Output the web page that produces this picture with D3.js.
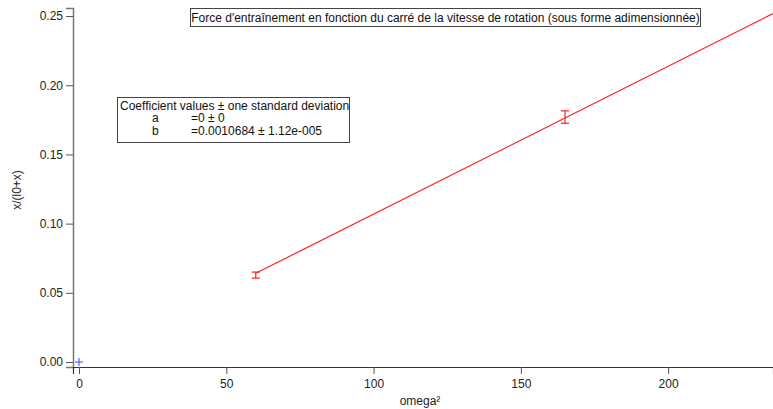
<!DOCTYPE html>
<html>
<head>
<meta charset="utf-8">
<script src="https://cdn.jsdelivr.net/npm/d3@7"></script>
<style>
body { margin: 0; background: #fff; }
svg { font-family: "Liberation Sans", Arial, sans-serif; }
</style>
</head>
<body>
<svg width="773" height="409"></svg>
<script>
// data
const omega2 = [60, 165];
const ratio = [0.0628, 0.177];
const ratioErr = [0.0022, 0.0045];
const fitA = 0, fitB = 0.0010684;
const fitStart = 60;
const origin = [0, 0];
const yTicks = [0, 0.05, 0.10, 0.15, 0.20, 0.25];
const xTicks = [0, 50, 100, 150, 200];

const svg = d3.select('svg');
const plotL = 73, plotR = 773, plotT = 8, plotB = 367;

const x = d3.scaleLinear().domain([-2.04, 235.6]).range([plotL, plotR]);
const y = d3.scaleLinear().domain([-0.0036, 0.2558]).range([plotB, plotT]);

// y axis
const yAxis = svg.append('g')
    .attr('transform', `translate(${plotL},0)`)
    .call(d3.axisLeft(y).tickValues(yTicks).tickFormat(d3.format('.2f')).tickSize(7).tickPadding(3));
yAxis.select('.domain').attr('stroke', '#777').attr('stroke-width', 1.5);
yAxis.selectAll('.tick line').attr('stroke', '#555');
yAxis.selectAll('.tick text').attr('font-size', 12).attr('fill', '#222');

// x axis
const xAxis = svg.append('g')
    .attr('transform', `translate(0,${plotB})`)
    .call(d3.axisBottom(x).tickValues(xTicks).tickSize(7).tickPadding(5));
xAxis.select('.domain').attr('stroke', '#333').attr('stroke-width', 1.2);
xAxis.selectAll('.tick line').attr('stroke', '#555');
xAxis.selectAll('.tick text').attr('font-size', 12).attr('fill', '#222');

svg.append('text')
    .attr('x', 420).attr('y', 405)
    .attr('text-anchor', 'middle').attr('font-size', 12).attr('fill', '#222')
    .text('omega²');

svg.append('text')
    .attr('transform', `translate(21,190) rotate(-90)`)
    .attr('text-anchor', 'middle').attr('font-size', 12).attr('fill', '#222')
    .text('x/(l0+x)');

// fit line
const fitLine = d3.line().x(d => x(d)).y(d => y(fitA + fitB * d));
svg.append('path')
    .datum([fitStart, x.domain()[1]])
    .attr('d', fitLine)
    .attr('stroke', '#ff2020').attr('stroke-width', 1.2).attr('fill', 'none');

// error bars
const pts = omega2.map((v, i) => ({ x: v, y: ratio[i], e: ratioErr[i] }));
const eb = svg.append('g').attr('stroke', '#ff2020').attr('stroke-width', 1.2);
eb.selectAll('.v').data(pts).enter().append('line')
    .attr('x1', d => x(d.x)).attr('x2', d => x(d.x))
    .attr('y1', d => y(d.y - d.e)).attr('y2', d => y(d.y + d.e));
eb.selectAll('.t').data(pts).enter().append('line')
    .attr('x1', d => x(d.x) - 4).attr('x2', d => x(d.x) + 4)
    .attr('y1', d => y(d.y + d.e)).attr('y2', d => y(d.y + d.e));
eb.selectAll('.b').data(pts).enter().append('line')
    .attr('x1', d => x(d.x) - 4).attr('x2', d => x(d.x) + 4)
    .attr('y1', d => y(d.y - d.e)).attr('y2', d => y(d.y - d.e));

// blue origin marker
const ox = x(origin[0]), oy = y(origin[1]);
svg.append('path')
    .attr('d', `M${ox - 4},${oy}H${ox + 4}M${ox},${oy - 4}V${oy + 4}`)
    .attr('stroke', '#2a4dff').attr('stroke-width', 1);

// title box
svg.append('rect').attr('x', 190.5).attr('y', 8.5).attr('width', 510).attr('height', 18)
    .attr('fill', '#fff').attr('stroke', '#444');
svg.append('text').attr('x', 445.5).attr('y', 22).attr('text-anchor', 'middle')
    .attr('font-size', 12).attr('fill', '#111')
    .text("Force d'entraînement en fonction du carré de la vitesse de rotation (sous forme adimensionnée)");

// coefficient box
svg.append('rect').attr('x', 117.5).attr('y', 97.5).attr('width', 232).attr('height', 45)
    .attr('fill', '#fff').attr('stroke', '#444');
const coefLines = [
    ['Coefficient values ± one standard deviation', 120, null],
    ['a', 152, '=0 ± 0'],
    ['b', 152, '=0.0010684 ± 1.12e-005']
];
coefLines.forEach((l, i) => {
    svg.append('text').attr('x', l[1]).attr('y', 109.5 + i * 12.5)
        .attr('font-size', 12).attr('fill', '#111').text(l[0]);
    if (l[2]) svg.append('text').attr('x', 191).attr('y', 109.5 + i * 12.5)
        .attr('font-size', 12).attr('fill', '#111').text(l[2]);
});
</script>
</body>
</html>
